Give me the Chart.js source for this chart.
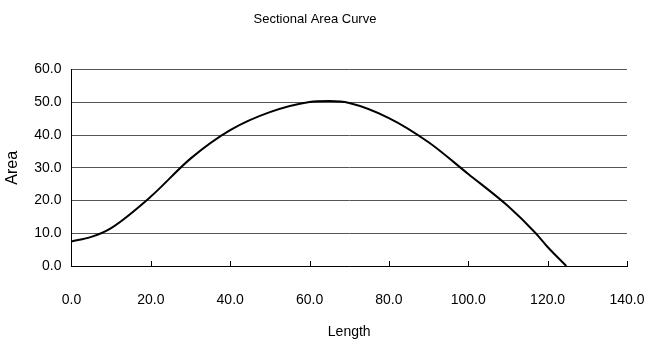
<!DOCTYPE html>
<html>
<head>
<meta charset="utf-8">
<script src="https://cdn.jsdelivr.net/npm/chart.js@4"></script>
<style>
  html, body { margin: 0; padding: 0; background: #fff; }
  #wrap { width: 649px; height: 347px; }
</style>
</head>
<body>
<div id="wrap"><canvas id="areaChart"></canvas></div>
<script>
// data
const lengths = [0, 5, 10, 20, 30, 40, 50, 60, 65, 70, 80, 90, 100, 110, 117, 120, 124.7];
const areas   = [7.5, 8.9, 11.6, 21.2, 32.8, 41.5, 47.0, 50.1, 50.4, 49.8, 45.2, 37.8, 28.1, 18.3, 10.0, 5.8, 0.0];
const xTicks = [0, 20, 40, 60, 80, 100, 120, 140];
const yTicks = [0, 10, 20, 30, 40, 50, 60];

const FONT = "'Liberation Sans', Arial, sans-serif";

// small tick marks pointing up into the plot from the x axis
const innerTicks = {
  id: 'innerTicks',
  afterDraw(chart) {
    const ctx = chart.ctx;
    const xs = chart.scales.x;
    const bottom = chart.chartArea.bottom;
    ctx.save();
    ctx.strokeStyle = '#000';
    ctx.lineWidth = 1;
    xTicks.forEach(v => {
      const px = Math.round(xs.getPixelForValue(v)) + 0.5;
      ctx.beginPath();
      ctx.moveTo(px, bottom);
      ctx.lineTo(px, bottom - 5);
      ctx.stroke();
    });
    ctx.restore();
  }
};

const ctx = document.getElementById('areaChart').getContext('2d');
new Chart(ctx, {
  type: 'scatter',
  data: {
    datasets: [{
      data: lengths.map((x, i) => ({ x: x, y: areas[i] })),
      showLine: true,
      borderColor: '#000',
      borderWidth: 2,
      pointRadius: 0,
      cubicInterpolationMode: 'monotone',
      fill: false
    }]
  },
  options: {
    responsive: true,
    maintainAspectRatio: false,
    animation: false,
    layout: { padding: { left: 3, right: 22, top: 4, bottom: 6 } },
    plugins: {
      legend: { display: false },
      tooltip: { enabled: false },
      title: {
        display: true,
        text: 'Sectional Area Curve',
        color: '#000',
        font: { family: FONT, size: 13, weight: 'normal' },
        padding: { top: 8, bottom: 42 }
      }
    },
    scales: {
      x: {
        type: 'linear',
        min: 0, max: 140,
        afterBuildTicks: axis => { axis.ticks = xTicks.map(v => ({ value: v })); },
        afterFit: axis => {
          axis.height = 75;
          axis.paddingLeft = 0;
          axis.paddingRight = 0;
        },
        ticks: {
          color: '#000',
          font: { family: FONT, size: 14 },
          padding: 26,
          maxRotation: 0,
          callback: v => v.toFixed(1)
        },
        grid: { display: true, drawOnChartArea: false, drawTicks: false, color: '#000' },
        border: { display: true, color: '#000', width: 1 },
        title: {
          display: true,
          text: 'Length',
          color: '#000',
          font: { family: FONT, size: 14 },
          padding: { top: 4, bottom: 0 }
        }
      },
      y: {
        type: 'linear',
        min: 0, max: 60,
        afterBuildTicks: axis => { axis.ticks = yTicks.map(v => ({ value: v })); },
        ticks: {
          color: '#000',
          font: { family: FONT, size: 14 },
          padding: 10,
          callback: v => v.toFixed(1)
        },
        grid: { color: '#555', lineWidth: 1, drawTicks: false },
        border: { display: true, color: '#000', width: 1 },
        title: {
          display: true,
          text: 'Area',
          color: '#000',
          font: { family: FONT, size: 16 },
          padding: { top: 0, bottom: 2 }
        }
      }
    }
  },
  plugins: [innerTicks]
});
</script>
</body>
</html>
